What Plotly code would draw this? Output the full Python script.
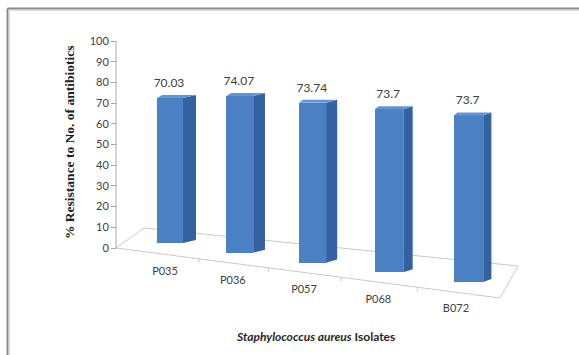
import plotly.graph_objects as go

# ---------------- data ----------------
categories = ["P035", "P036", "P057", "P068", "B072"]
values = [70.03, 74.07, 73.74, 73.7, 73.7]
value_labels = ["70.03", "74.07", "73.74", "73.7", "73.7"]
y_tick_values = [0, 10, 20, 30, 40, 50, 60, 70, 80, 90, 100]
y_tick_labels = [str(v) for v in y_tick_values]
y_title = "% Resistance to No. of antibiotics"
x_title = "<i>Staphylococcus aureus</i> Isolates"

# ---------------- view geometry (pixels of the 579x355 page) ----------------
W, H = 579, 355
Y0_PX = 248.0        # pixel row of value 0 on the value axis
PX_PER_VAL = 2.07    # pixels per value unit
X0_PX = 157.0        # pixel column of category 0 (front-left of first bar)
PX_PER_CAT = 74.0    # pixels per x unit
AXIS_PX = 116.0      # pixel column of the value axis

def ux(px):
    return (px - X0_PX) / PX_PER_CAT

def uy(py):
    return (Y0_PX - py) / PX_PER_VAL

def bar_proj(i, v):
    """simple perspective projection of bar i with value v -> pixel geometry"""
    left = X0_PX + 67.75 * i + 1.625 * i * i
    fw = 26 + 0.8 * i          # front face width
    sw = 13 - 1.2 * i          # visible side depth
    rise = 3.0                 # depth rise
    bottom = 243 + 9.75 * i
    scale = 1 + 0.023 * i
    top = bottom - v * PX_PER_VAL * scale
    return left, fw, sw, rise, bottom, top, scale

FRONT = "#4b80c4"
SIDE = "#3462a0"
TOPC = "#6096d6"
FLOOR_LINE = "#c8c8c8"
AXIS_LINE = "#a6a6a6"
TEXT = "#404040"

fig = go.Figure()

# ---- floor (drawn below the bars) ----
floor_px = [(116, 248), (144, 228), (518, 266), (500, 298)]
fx = [ux(p[0]) for p in floor_px] + [ux(floor_px[0][0])]
fy = [uy(p[1]) for p in floor_px] + [uy(floor_px[0][1])]
path = "M " + " L ".join(f"{a},{b}" for a, b in zip(fx, fy)) + " Z"
fig.add_shape(type="path", path=path, xref="x", yref="y",
              line=dict(color=FLOOR_LINE, width=1), layer="below")

# category label positions
lab_x, lab_y = [], []
geoms = []
for i, v in enumerate(values):
    g = bar_proj(i, v)
    geoms.append(g)
    left, fw, sw, rise, bottom, top, scale = g
    lab_x.append(left + 8 - 1.5 * i)
    lab_y.append(bottom + 29 - 0.5 * i)

# small ticks on the front floor edge between categories
def front_edge_y(px):
    (x1, y1), (x2, y2) = floor_px[0], floor_px[3]
    return y1 + (px - x1) * (y2 - y1) / (x2 - x1)

for k in range(len(categories) - 1):
    tx = (lab_x[k] + lab_x[k + 1]) / 2
    ty = front_edge_y(tx)
    fig.add_shape(type="line", xref="x", yref="y",
                  x0=ux(tx), x1=ux(tx), y0=uy(ty), y1=uy(ty + 4),
                  line=dict(color=FLOOR_LINE, width=1), layer="below")

# ---- value axis line (0..100) ----
fig.add_shape(type="line", xref="x", yref="y",
              x0=ux(AXIS_PX), x1=ux(AXIS_PX), y0=0, y1=100,
              line=dict(color=AXIS_LINE, width=1), layer="below")

# ---- bars: front faces ----
fig.add_trace(go.Bar(
    x=[ux(g[0] + g[1] / 2) for g in geoms],
    y=[v * g[6] for v, g in zip(values, geoms)],
    base=[uy(g[4]) for g in geoms],
    width=[g[1] / PX_PER_CAT for g in geoms],
    marker=dict(color=FRONT, line=dict(width=0)),
    hoverinfo="skip", showlegend=False,
))

# side and top faces
for i, g in enumerate(geoms):
    left, fw, sw, rise, bottom, top, scale = g
    r = left + fw
    sx = [r, r, r + sw, r + sw, r]
    sy = [bottom, top, top - rise, bottom - rise, bottom]
    fig.add_trace(go.Scatter(x=[ux(a) for a in sx], y=[uy(b) for b in sy],
                             mode="lines", fill="toself", fillcolor=SIDE,
                             line=dict(width=0, color=SIDE),
                             hoverinfo="skip", showlegend=False))
    tx = [left, r, r + sw, left + sw * 0.4, left]
    ty = [top, top, top - rise, top - rise, top]
    fig.add_trace(go.Scatter(x=[ux(a) for a in tx], y=[uy(b) for b in ty],
                             mode="lines", fill="toself", fillcolor=TOPC,
                             line=dict(width=0, color=TOPC),
                             hoverinfo="skip", showlegend=False))

# ---- data labels ----
fig.add_trace(go.Scatter(
    x=[ux(g[0] + g[1] / 2 - 1) for g in geoms],
    y=[uy(g[5] - 14) for g in geoms],
    mode="text", text=value_labels,
    textfont=dict(family="Lato, Open Sans, sans-serif", size=12, color=TEXT),
    hoverinfo="skip", showlegend=False))

# ---- category labels ----
fig.add_trace(go.Scatter(
    x=[ux(a) for a in lab_x], y=[uy(b) for b in lab_y],
    mode="text", text=categories,
    textfont=dict(family="Lato, Open Sans, sans-serif", size=11, color=TEXT),
    hoverinfo="skip", showlegend=False))

# ---- titles ----
fig.add_annotation(x=69 / W, y=1 - 143 / H, xref="paper", yref="paper",
                   text=f"<b>{y_title}</b>", textangle=-90, showarrow=False,
                   font=dict(family="Liberation Serif, Times New Roman, serif",
                             size=13.5, color="#202020"),
                   xanchor="center", yanchor="middle")
fig.add_annotation(x=315 / W, y=1 - 336 / H, xref="paper", yref="paper",
                   text=f"<b>{x_title}</b>", showarrow=False,
                   font=dict(family="Lato, Open Sans, sans-serif", size=12,
                             color="#262626"),
                   xanchor="center", yanchor="middle")

# ---- picture frame ----
fig.add_shape(type="line", xref="paper", yref="paper",
              x0=7.5 / W, x1=1.0, y0=1 - 8.5 / H, y1=1 - 8.5 / H,
              line=dict(color="#8a8a8a", width=2))
fig.add_shape(type="line", xref="paper", yref="paper",
              x0=7.5 / W, x1=7.5 / W, y0=0, y1=1 - 8.5 / H,
              line=dict(color="#8a8a8a", width=2))
fig.add_shape(type="line", xref="paper", yref="paper",
              x0=10 / W, x1=1.0, y0=1 - 10.5 / H, y1=1 - 10.5 / H,
              line=dict(color="#dcdcdc", width=1))
fig.add_shape(type="line", xref="paper", yref="paper",
              x0=9.5 / W, x1=9.5 / W, y0=0, y1=1 - 10.5 / H,
              line=dict(color="#dcdcdc", width=1))

fig.update_layout(
    width=W, height=H, autosize=False,
    margin=dict(l=0, r=0, t=0, b=0),
    paper_bgcolor="white", plot_bgcolor="white",
    showlegend=False, bargap=0,
    xaxis=dict(range=[ux(0), ux(W)], visible=False, fixedrange=True),
    yaxis=dict(range=[uy(H), uy(0)], anchor="free", position=AXIS_PX / W,
               tickvals=y_tick_values, ticktext=y_tick_labels,
               ticks="outside", ticklen=5, tickcolor=AXIS_LINE,
               showline=False, showgrid=False, zeroline=False,
               tickfont=dict(family="Lato, Open Sans, sans-serif", size=11,
                             color=TEXT),
               fixedrange=True),
)

fig.write_html("out.html", config={"displayModeBar": False})
